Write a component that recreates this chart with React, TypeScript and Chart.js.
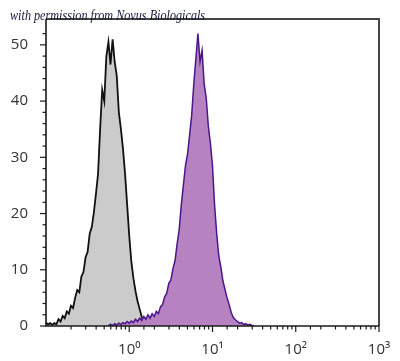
import React, { useEffect, useRef } from "react";
import { Chart, registerables } from "chart.js";

Chart.register(...registerables);

// Histogram channel centres (fluorescence intensity, log spaced)
const channels = [
  0.1, 0.1059, 0.1122, 0.1189, 0.1259, 0.1334, 0.1413, 0.1496, 0.1585, 0.1679,
  0.1778, 0.1884, 0.1995, 0.2113, 0.2239, 0.2371, 0.2512, 0.2661, 0.2818, 0.2985,
  0.3162, 0.335, 0.3548, 0.3758, 0.3981, 0.4217, 0.4467, 0.4732, 0.5012, 0.5309,
  0.5623, 0.5957, 0.631, 0.6683, 0.7079, 0.7499, 0.7943, 0.8414, 0.8913, 0.9441,
  1.0, 1.059, 1.122, 1.189, 1.259, 1.334, 1.413, 1.496, 1.585, 1.679,
  1.778, 1.884, 1.995, 2.113, 2.239, 2.371, 2.512, 2.661, 2.818, 2.985,
  3.162, 3.35, 3.548, 3.758, 3.981, 4.217, 4.467, 4.732, 5.012, 5.309,
  5.623, 5.957, 6.31, 6.683, 7.079, 7.499, 7.943, 8.414, 8.913, 9.441,
  10.0, 10.59, 11.22, 11.89, 12.59, 13.34, 14.13, 14.96, 15.85, 16.79,
  17.78, 18.84, 19.95, 21.13, 22.39, 23.71, 25.12, 26.61, 28.18, 29.85,
  31.62,
];

// Isotype control (grey histogram)
const controlCounts: (number | null)[] = [
  0.6, 0.3, 0.5, 0.2, 0.5, 0.3, 1.2, 0.8, 1.8, 1.4,
  2.6, 2.2, 3.6, 3.2, 5.0, 6.4, 6.0, 8.8, 9.6, 12.2,
  13.2, 16.4, 17.6, 20.2, 23.5, 27.0, 35.0, 42.0, 40.0, 48.0,
  50.5, 46.5, 51.0, 47.0, 44.5, 38.0, 35.0, 31.5, 27.0, 21.5,
  16.0, 11.5, 8.5, 6.2, 4.4, 3.0, 1.6, 0.8, 0.4, 0.2,
  0, null, null, null, null, null, null, null, null, null,
  null, null, null, null, null, null, null, null, null, null,
  null, null, null, null, null, null, null, null, null, null,
  null, null, null, null, null, null, null, null, null, null,
  null, null, null, null, null, null, null, null, null, null,
  null,
];

// Stained sample (purple histogram)
const stainedCounts: (number | null)[] = [
  null, null, null, null, null, null, null, null, null, null,
  null, null, null, null, null, null, null, null, null, null,
  null, null, null, null, null, null, null, null, null, null,
  0.1, 0.3, 0.1, 0.4, 0.2, 0.5, 0.3, 0.6, 0.4, 0.8,
  0.5, 0.9, 0.6, 1.2, 0.8, 1.4, 1.0, 1.7, 1.2, 2.0,
  1.4, 2.2, 1.7, 2.6, 2.2, 3.4, 3.8, 5.2, 5.8, 7.6,
  8.2, 10.2, 11.6, 14.6, 17.2, 21.5, 25.0, 28.5, 30.5, 34.0,
  37.5, 43.0, 47.5, 52.0, 47.0, 49.0, 43.0, 40.5, 35.5, 32.5,
  28.5, 21.5, 16.5, 12.5, 10.5, 8.0, 6.5, 5.0, 3.8, 2.4,
  1.5, 1.1, 0.8, 0.5, 0.6, 0.3, 0.4, 0.2, 0.3, 0.1,
  0,
];

const xMajorValues = [1, 10, 100, 1000];
const xMajorLabels = ["10\u2070", "10\u00b9", "10\u00b2", "10\u00b3"];
const yMajorValues = [0, 10, 20, 30, 40, 50];
const watermark = "with permission from Novus Biologicals";

const FONT = "'Open Sans', 'DejaVu Sans', sans-serif";

function majorIndex(v: number): number {
  for (let i = 0; i < xMajorValues.length; i++) {
    if (Math.abs(v - xMajorValues[i]) < 1e-6 * xMajorValues[i]) return i;
  }
  return -1;
}

const framePlugin = {
  id: "frameTicks",
  afterDraw(chart: any) {
    const { ctx, chartArea } = chart;
    const { left, right, top, bottom } = chartArea;
    const x = chart.scales.x;
    const y = chart.scales.y;
    ctx.save();
    // top + right frame
    ctx.strokeStyle = "#454545";
    ctx.lineWidth = 2;
    ctx.beginPath();
    ctx.moveTo(left, top);
    ctx.lineTo(right, top);
    ctx.lineTo(right, bottom);
    ctx.stroke();
    // axes
    ctx.strokeStyle = "#1a1a1a";
    ctx.lineWidth = 1.6;
    ctx.beginPath();
    ctx.moveTo(left, top);
    ctx.lineTo(left, bottom);
    ctx.lineTo(right, bottom);
    ctx.stroke();
    // x ticks
    ctx.lineWidth = 1.2;
    x.ticks.forEach((t: any) => {
      const px = x.getPixelForValue(t.value);
      if (px < left + 2 || px > right + 1) return;
      const major = majorIndex(t.value) >= 0;
      ctx.beginPath();
      ctx.moveTo(px, bottom);
      ctx.lineTo(px, bottom + (major ? 6 : 3.5));
      ctx.stroke();
    });
    // y ticks
    y.ticks.forEach((t: any) => {
      if (Math.abs(t.value - Math.round(t.value)) > 1e-6) return;
      const py = y.getPixelForValue(t.value);
      const major = yMajorValues.indexOf(t.value) >= 0;
      ctx.beginPath();
      ctx.moveTo(left, py);
      ctx.lineTo(left - (major ? 6 : 3.5), py);
      ctx.stroke();
    });
    ctx.restore();
  },
};

function toPoints(counts: (number | null)[]) {
  const pts: { x: number; y: number }[] = [];
  channels.forEach((c, i) => {
    const v = counts[i];
    if (v !== null && v !== undefined) pts.push({ x: c, y: v });
  });
  return pts;
}

export default function App() {
  const canvasRef = useRef<HTMLCanvasElement | null>(null);

  useEffect(() => {
    if (!canvasRef.current) return;
    const chart = new Chart(canvasRef.current, {
      type: "line",
      data: {
        datasets: [
          {
            label: "Stained",
            data: toPoints(stainedCounts),
            borderColor: "#4b168c",
            backgroundColor: "#b782c2",
            borderWidth: 1.5,
            fill: "origin",
            pointRadius: 0,
            tension: 0,
            order: 0,
          },
          {
            label: "Isotype control",
            data: toPoints(controlCounts),
            borderColor: "#111111",
            backgroundColor: "#cbcbcb",
            borderWidth: 1.8,
            fill: "origin",
            pointRadius: 0,
            tension: 0,
            order: 1,
          },
        ],
      },
      options: {
        animation: false,
        responsive: false,
        events: [],
        layout: { padding: { left: 0, right: 21, top: 6, bottom: 0 } },
        plugins: {
          legend: { display: false },
          tooltip: { enabled: false },
          title: { display: false },
        },
        scales: {
          x: {
            type: "logarithmic",
            min: 0.1,
            max: 1000,
            grid: { display: false },
            border: { display: false },
            afterFit: (s: any) => {
              s.height = 35;
            },
            ticks: {
              autoSkip: false,
              maxRotation: 0,
              minRotation: 0,
              padding: 7,
              color: "#333333",
              font: { family: FONT, size: 15 },
              callback: (v: any) => {
                const i = majorIndex(Number(v));
                return i >= 0 ? xMajorLabels[i] : "";
              },
            },
          },
          y: {
            type: "linear",
            min: 0,
            max: 54.6,
            grid: { display: false },
            border: { display: false },
            afterFit: (s: any) => {
              s.width = 46;
            },
            ticks: {
              stepSize: 2,
              autoSkip: false,
              padding: 10,
              color: "#333333",
              font: { family: FONT, size: 15 },
              callback: (v: any) => {
                const n = Number(v);
                return yMajorValues.indexOf(n) >= 0 ? String(n) : "";
              },
            },
          },
        },
      },
      plugins: [framePlugin],
    });
    return () => chart.destroy();
  }, []);

  return (
    <div
      style={{
        position: "fixed",
        left: 0,
        top: 0,
        width: 400,
        height: 361,
        background: "#ffffff",
      }}
    >
      <canvas ref={canvasRef} width={400} height={361} style={{ display: "block" }} />
      <div
        style={{
          position: "absolute",
          left: 10,
          top: 9,
          fontFamily: "'Liberation Serif', 'DejaVu Serif', serif",
          fontStyle: "italic",
          fontSize: 14,
          lineHeight: "14px",
          color: "#16163a",
          whiteSpace: "nowrap",
          transform: "scaleX(0.87)",
          transformOrigin: "left top",
        }}
      >
        {watermark}
      </div>
    </div>
  );
}
